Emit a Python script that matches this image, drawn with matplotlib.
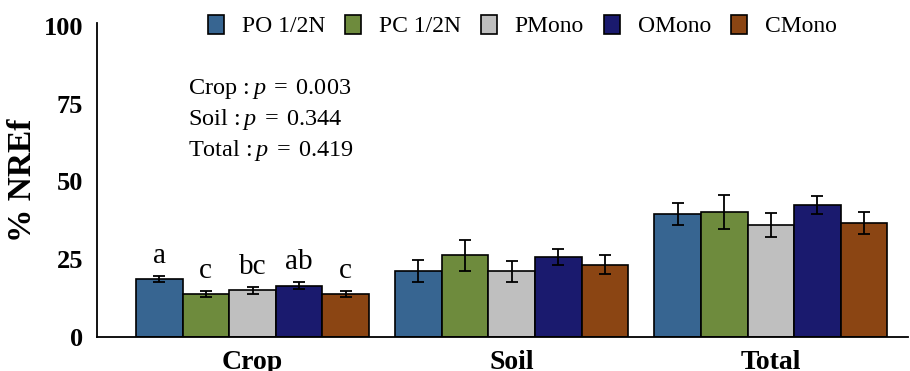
import numpy as np
import matplotlib
matplotlib.use('Agg')
import matplotlib.pyplot as plt

# -------------------- Data --------------------
CATEGORIES = ['Crop', 'Soil', 'Total']
TREATMENTS = ['PO 1/2N', 'PC 1/2N', 'PMono', 'OMono', 'CMono']
COLORS = ['#376591', '#6E8B3D', '#BFBFBF', '#1A1A6E', '#8B4513']

# mean % NREf per treatment, in category order (Crop, Soil, Total)
PO_HALF = [18.6, 21.3, 39.6]
PC_HALF = [13.9, 26.2, 40.2]
PMONO = [15.0, 21.1, 36.0]
OMONO = [16.5, 25.7, 42.4]
CMONO = [13.9, 23.2, 36.6]

PO_HALF_ERR = [1.0, 3.6, 3.6]
PC_HALF_ERR = [0.9, 5.0, 5.4]
PMONO_ERR = [1.1, 3.3, 3.8]
OMONO_ERR = [1.1, 2.5, 2.8]
CMONO_ERR = [0.9, 3.0, 3.6]

CROP_LETTERS = ['a', 'c', 'bc', 'ab', 'c']
P_LINES = [('Crop', '0.003'), ('Soil', '0.344'), ('Total', '0.419')]
# ----------------------------------------------

plt.rcParams['font.family'] = ['Liberation Serif', 'DejaVu Serif']
plt.rcParams['mathtext.fontset'] = 'custom'
plt.rcParams['mathtext.rm'] = 'Liberation Serif'
plt.rcParams['mathtext.it'] = 'Liberation Serif:italic'

means = [PO_HALF, PC_HALF, PMONO, OMONO, CMONO]
errs = [PO_HALF_ERR, PC_HALF_ERR, PMONO_ERR, OMONO_ERR, CMONO_ERR]

fig = plt.figure(figsize=(9.1, 3.71), dpi=100)
ax = fig.add_axes([0.1066, 0.0916, 0.8914, 0.8474])

x = np.arange(len(CATEGORIES))
width = 0.18
for i, (name, m, e, c) in enumerate(zip(TREATMENTS, means, errs, COLORS)):
    pos = x + (i - 2) * width
    ax.bar(pos, m, width, color=c, edgecolor='black', linewidth=1.2,
           label=name, zorder=2)
    ax.errorbar(pos, m, yerr=e, fmt='none', ecolor='black', elinewidth=1.3,
                capsize=4, capthick=1.3, zorder=3)

# significance letters over the crop bars
for i, letter in enumerate(CROP_LETTERS):
    top = means[i][0] + errs[i][0]
    ax.text(x[0] + (i - 2) * width, top + 4.3, letter, ha='center',
            va='baseline', fontsize=21)

for j, (lab, p) in enumerate(P_LINES):
    ax.text(0.112, 0.79 - j * 0.098, lab + r'$\,:p\;=\;$' + r'$%s$' % p,
            transform=ax.transAxes, fontsize=17.5, ha='left', va='center')

ax.set_xlim(-0.6, 2.53)
ax.set_ylim(0, 101)
ax.set_yticks([0, 25, 50, 75, 100])
ax.set_xticks(x)
ax.set_xticklabels(CATEGORIES, fontsize=20, fontweight='bold')
for t in ax.get_yticklabels():
    t.set_fontsize(19)
    t.set_fontweight('bold')
ax.tick_params(axis='both', length=0)
ax.tick_params(axis='y', pad=10)
ax.tick_params(axis='x', pad=9)
ax.spines['top'].set_visible(False)
ax.spines['right'].set_visible(False)
ax.spines['left'].set_linewidth(1.3)
ax.spines['bottom'].set_linewidth(1.3)

ax.set_ylabel('% NREf', fontsize=24, fontweight='bold', labelpad=4)

fig.legend(loc='center', bbox_to_anchor=(0.574, 0.93), ncol=5, frameon=False,
           fontsize=17, handlelength=0.68, handleheight=0.85, handletextpad=0.75,
           columnspacing=0.85, borderaxespad=0)

fig.savefig('out.png', dpi=100)
